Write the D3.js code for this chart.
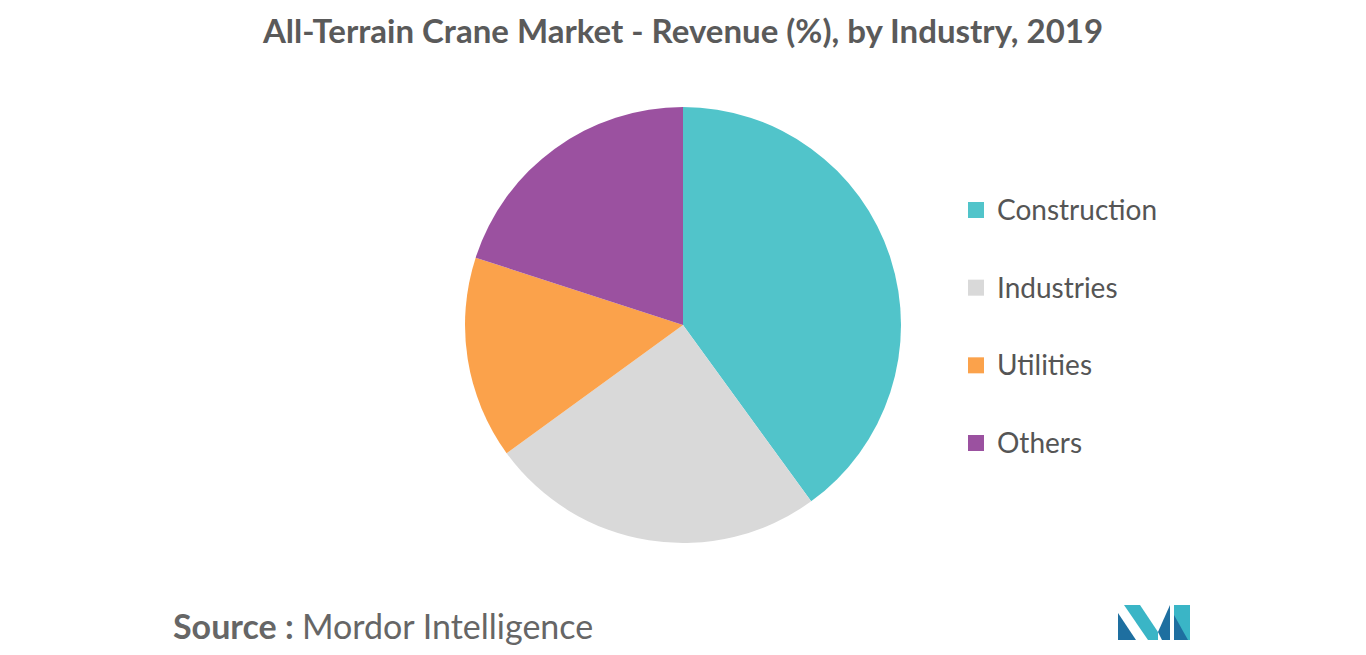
<!DOCTYPE html>
<html>
<head>
<meta charset="utf-8">
<script src="https://cdn.jsdelivr.net/npm/d3@7"></script>
<style>
  body { margin: 0; background: #fff; }
  text { font-family: Lato, "Open Sans", sans-serif; }
</style>
</head>
<body>
<svg id="chart" width="1366" height="655"></svg>
<script>
// data
var categories = ["Construction", "Industries", "Utilities", "Others"];
var shares = [40, 25, 15, 20];
var colors = ["#51C4CA", "#D9D9D9", "#FBA24B", "#9B51A0"];

var svg = d3.select("#chart");

// title
svg.append("text")
  .attr("x", 683).attr("y", 43)
  .attr("text-anchor", "middle")
  .attr("font-size", 33).attr("font-weight", "bold")
  .attr("fill", "#5a5a5a")
  .text("All-Terrain Crane Market - Revenue (%), by Industry, 2019");

// pie
var pie = d3.pie().sort(null).value(function(d) { return d; });
var arc = d3.arc().innerRadius(0).outerRadius(218);

svg.append("g")
  .attr("transform", "translate(683,325)")
  .selectAll("path")
  .data(pie(shares))
  .enter().append("path")
  .attr("d", arc)
  .attr("fill", function(d, i) { return colors[i]; });

// legend
var legendY = d3.scalePoint().domain(categories).range([210, 443]);
var legend = svg.append("g").selectAll("g")
  .data(categories)
  .enter().append("g")
  .attr("transform", function(d) { return "translate(968," + legendY(d) + ")"; });

legend.append("rect")
  .attr("x", 0).attr("y", -8).attr("width", 16).attr("height", 16)
  .attr("fill", function(d, i) { return colors[i]; });

legend.append("text")
  .attr("x", 29).attr("y", 10)
  .attr("font-size", 28).attr("fill", "#555")
  .text(function(d) { return d; });

// source
var src = svg.append("text")
  .attr("x", 173).attr("y", 639)
  .attr("font-size", 34).attr("fill", "#666");
src.append("tspan").attr("font-weight", "bold").text("Source : ");
src.append("tspan").text("Mordor Intelligence");

// logo
var logo = svg.append("g").attr("transform", "translate(1118,605)");
logo.append("polygon").attr("points", "0,35 0,8 18,35").attr("fill", "#1E6FA0");
logo.append("polygon").attr("points", "6,0 22,0 40,27 40,35 30,35").attr("fill", "#3AB5C6");
logo.append("polygon").attr("points", "40,27 52,0 52,35 44,35").attr("fill", "#1E6FA0");
logo.append("polygon").attr("points", "56,0 72,0 72,35 56,35").attr("fill", "#3AB5C6");
logo.append("polygon").attr("points", "56,35 56,10 70,35").attr("fill", "#1E6FA0");
</script>
</body>
</html>
